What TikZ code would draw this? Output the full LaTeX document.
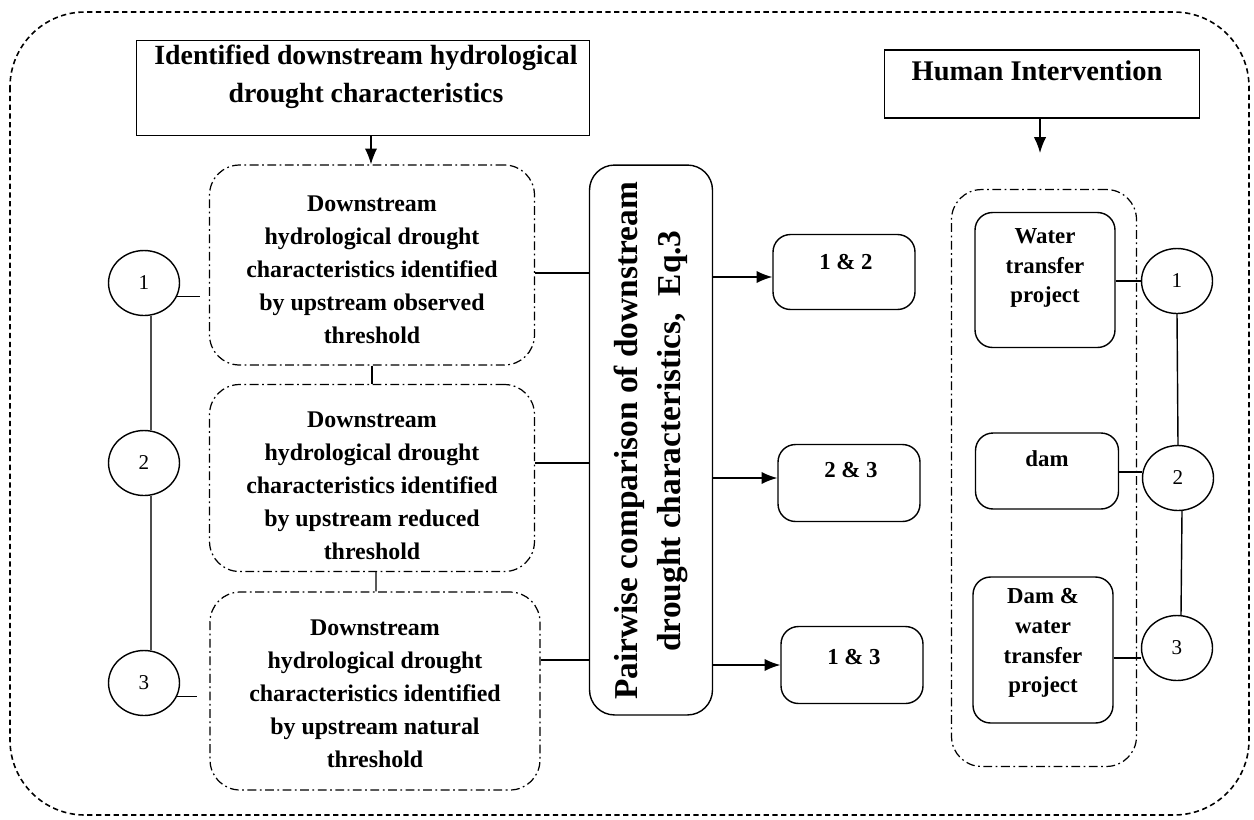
\documentclass[tikz,border=0pt]{standalone}
\usepackage{fontspec}
\setmainfont{Liberation Serif}
\usetikzlibrary{arrows.meta,shapes.geometric}
\begin{document}
\begin{tikzpicture}[x=0.02cm,y=-0.02cm,
  every node/.style={font=\bfseries, align=center, inner sep=0pt},
  dashdotbox/.style={draw, dash pattern=on 5pt off 2pt on 1pt off 2pt, rounded corners=0.6cm, line width=0.7pt},
  solidbox/.style={draw, rounded corners=0.35cm, line width=0.8pt},
  titlebox/.style={draw, line width=0.9pt},
  circ/.style={draw, ellipse, line width=0.8pt, minimum width=1.42cm, minimum height=1.3cm, font=\fontsize{12}{14}\selectfont},
  conn/.style={line width=0.8pt},
  arr/.style={line width=0.8pt, -{Latex[length=9pt,width=7pt]}},
  leftlink/.style={line width=1.1pt, draw=black!70},
  bodytext/.style={font=\bfseries\fontsize{13.6}{18.8}\selectfont},
]
\useasboundingbox (0,0) rectangle (1254,819);
% outer frame
\draw[densely dashed, line width=0.9pt, rounded corners=1.5cm] (10,12) rectangle (1249,815);

% titles
\node[titlebox, minimum width=9.06cm, minimum height=1.9cm] (title) at (363,88) {};
\node[font=\bfseries\fontsize{15.8}{21.5}\selectfont] (titletext) at (366,77) {Identified downstream hydrological\\drought characteristics};
\node[titlebox, minimum width=6.3cm, minimum height=1.36cm] (human) at (1042,84) {};
\node[font=\bfseries\fontsize{16.2}{21}\selectfont] (humantext) at (1037,71) {Human Intervention};

% left boxes
\node[dashdotbox, minimum width=6.5cm, minimum height=4.0cm] (boxA) at (372,265) {};
\node[bodytext] (boxAtext) at (372,270) {Downstream\\hydrological drought\\characteristics identified\\by upstream observed\\threshold};
\node[dashdotbox, minimum width=6.5cm, minimum height=3.74cm] (boxB) at (372,478) {};
\node[bodytext] (boxBtext) at (372,486) {Downstream\\hydrological drought\\characteristics identified\\by upstream reduced\\threshold};
\node[dashdotbox, minimum width=6.6cm, minimum height=3.96cm] (boxC) at (375,691) {};
\node[bodytext] (boxCtext) at (375,694) {Downstream\\hydrological drought\\characteristics identified\\by upstream natural\\threshold};

\draw[conn] (boxA.south) -- (boxB.north);
\draw[conn] ([xshift=0.08cm]boxB.south) -- ([xshift=0.02cm]boxC.north);

% pairwise box
\node[solidbox, rounded corners=0.5cm, minimum width=2.46cm, minimum height=11.0cm] (pair) at (651,440) {};
\node[rotate=90, font=\bfseries\fontsize{19}{24.5}\selectfont] (pairtext) at (651,441) {Pairwise comparison of downstream\\drought characteristics,~~Eq.3};

\draw[conn] ([yshift=-0.16cm]boxA.east) -- ([yshift=-0.16cm]boxA.east -| pair.west);
\draw[conn] ([yshift=0.3cm]boxB.east) -- ([yshift=0.3cm]boxB.east -| pair.west);
\draw[conn] ([yshift=0.62cm]boxC.east) -- ([yshift=0.62cm]boxC.east -| pair.west);

% result boxes
\node[solidbox, minimum width=2.84cm, minimum height=1.5cm] (p12) at (844,272) {};
\node[font=\bfseries\fontsize{13}{16}\selectfont] (p12text) at (846,262) {1 \& 2};
\node[solidbox, minimum width=2.84cm, minimum height=1.54cm] (p23) at (849,483) {};
\node[font=\bfseries\fontsize{13}{16}\selectfont] (p23text) at (851,470) {2 \& 3};
\node[solidbox, minimum width=2.84cm, minimum height=1.54cm] (p13) at (852,665) {};
\node[font=\bfseries\fontsize{13}{16}\selectfont] (p13text) at (854,657) {1 \& 3};

\draw[arr] (pair.east |- 0,277) -- (p12.west |- 0,277);
\draw[arr] (pair.east |- 0,478) -- (p23.west |- 0,478);
\draw[arr] (pair.east |- 0,665) -- (p13.west |- 0,665);

% right container
\node[dashdotbox, minimum width=3.7cm, minimum height=11.54cm] (cont) at (1044,478) {};
\node[solidbox, minimum width=2.8cm, minimum height=2.7cm] (water) at (1045,280) {};
\node[font=\bfseries\fontsize{13}{17}\selectfont] (watertext) at (1045,268) {Water\\transfer\\project};
\node[solidbox, minimum width=2.86cm, minimum height=1.52cm] (dam) at (1047,471) {};
\node[font=\bfseries\fontsize{13}{17}\selectfont] (damtext) at (1047,459) {dam};
\node[solidbox, minimum width=2.8cm, minimum height=2.92cm] (damw) at (1043,650) {};
\node[font=\bfseries\fontsize{13}{17}\selectfont] (damwtext) at (1043,643) {Dam \&\\water\\transfer\\project};

% right circles
\node[circ] (r1) at (1177,281) {1};
\node[circ] (r2) at (1178,478) {2};
\node[circ] (r3) at (1177,648) {3};
\draw[conn] (r1.south) -- (r2.north);
\draw[conn] ([xshift=0.08cm]r2.south) -- ([xshift=0.08cm]r3.north);
\draw[conn] (water.east |- r1.west) -- (r1.west);
\draw[conn] (dam.east |- 0,472) -- (r2.west |- 0,472);
\draw[conn] (damw.east |- 0,658) -- (r3.west |- 0,658);

% left circles
\node[circ] (c1) at (144,283) {1};
\node[circ] (c2) at (144,463) {2};
\node[circ] (c3) at (144,683) {3};
\draw[leftlink] (c1.-78) -- (c2.78);
\draw[leftlink] (c2.-78) -- (c3.78);
\coordinate (e1) at (200,295);
\coordinate (e3) at (197,692);
\draw[conn] (c1.-22) -- (c1.-22 -| e1);
\draw[conn] (c3.-22) -- (c3.-22 -| e3);

% arrows from titles
\draw[arr] (title.south -| 371,0) -- (boxA.north -| 371,0);
\coordinate (h1) at (1040,153);
\draw[arr] (human.south -| h1) -- (h1);
\end{tikzpicture}
\end{document}
